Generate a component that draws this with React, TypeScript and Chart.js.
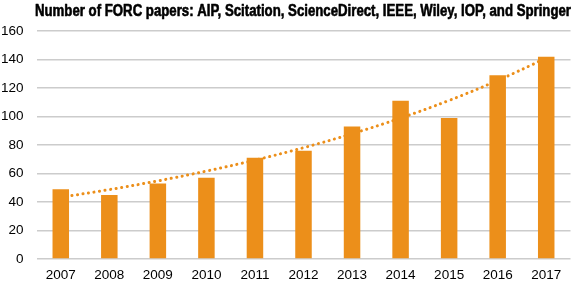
import React, { useEffect, useRef } from "react";
import { Chart, registerables } from "chart.js";

Chart.register(...registerables);

const categories = ["2007", "2008", "2009", "2010", "2011", "2012", "2013", "2014", "2015", "2016", "2017"];
const papers = [49, 45, 53, 57, 71, 76, 93, 111, 99, 129, 142];
const trend = [43.3, 48.7, 54.8, 61.7, 69.4, 78.1, 87.9, 98.9, 111.3, 125.3, 141.0];
const yTicks = [0, 20, 40, 60, 80, 100, 120, 140, 160];
const titleText = "Number of FORC papers: AIP, Scitation, ScienceDirect, IEEE, Wiley, IOP, and Springer";

const titlePlugin = {
  id: "condensedTitle",
  afterDraw(chart: any) {
    const ctx = chart.ctx;
    ctx.save();
    ctx.font = "bold 16px 'Liberation Sans Narrow', 'Liberation Sans', Arial, sans-serif";
    ctx.fillStyle = "#000";
    ctx.strokeStyle = "#000";
    ctx.lineWidth = 0.6;
    ctx.lineJoin = "round";
    ctx.textAlign = "right";
    ctx.textBaseline = "alphabetic";
    ctx.fillText(titleText, 571, 15.5, 536);
    ctx.strokeText(titleText, 571, 15.5, 536);
    ctx.restore();
  },
};

export default function App() {
  const ref = useRef<HTMLCanvasElement | null>(null);
  useEffect(() => {
    document.body.style.margin = "0";
    const ctx = ref.current!;
    const chart = new Chart(ctx, {
      type: "bar",
      data: {
        labels: categories,
        datasets: [
          {
            type: "bar",
            data: papers,
            backgroundColor: "#EC8F1A",
            barPercentage: 0.34,
            categoryPercentage: 1,
            order: 0,
          },
          {
            type: "line",
            data: trend,
            borderColor: "#EC8F1A",
            borderWidth: 3,
            borderDash: [0.1, 5.5],
            borderCapStyle: "round",
            pointRadius: 0,
            fill: false,
            tension: 0.4,
            order: 1,
          } as any,
        ],
      },
      plugins: [titlePlugin],
      options: {
        animation: false,
        responsive: false,
        maintainAspectRatio: false,
        layout: { padding: { left: 0, right: 5.5, top: 31, bottom: 0 } },
        plugins: {
          legend: { display: false },
          tooltip: { enabled: false },
          title: { display: false },
        },
        scales: {
          x: {
            grid: { display: false, drawTicks: false },
            border: { display: false },
            afterFit: (axis: any) => {
              axis.height = 24;
            },
            ticks: {
              color: "#000",
              padding: 8,
              font: { family: "'Liberation Sans', Arial, sans-serif", size: 13.5 },
            },
          },
          y: {
            min: 0,
            max: 160,
            afterBuildTicks: (axis: any) => {
              axis.ticks = yTicks.map((v) => ({ value: v }));
            },
            afterFit: (axis: any) => {
              axis.width = 36.5;
            },
            grid: { color: "#cccccc", lineWidth: 1.5, drawTicks: false },
            border: { display: false },
            ticks: {
              color: "#000",
              padding: 13,
              font: { family: "'Liberation Sans', Arial, sans-serif", size: 13.5 },
            },
          },
        },
      },
    });
    return () => chart.destroy();
  }, []);
  return (
    <div style={{ width: 576, height: 283 }}>
      <canvas ref={ref} width={576} height={283} style={{ display: "block" }} />
    </div>
  );
}
